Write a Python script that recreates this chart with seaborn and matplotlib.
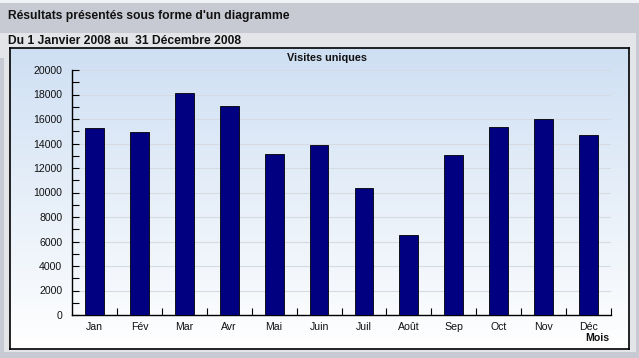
import numpy as np
import pandas as pd
import matplotlib
matplotlib.use("Agg")
import matplotlib.pyplot as plt
import seaborn as sns
from matplotlib.patches import Rectangle
from matplotlib.ticker import MultipleLocator, FixedLocator

months = ["Jan", "Fév", "Mar", "Avr", "Mai", "Juin", "Juil", "Août", "Sep", "Oct", "Nov", "Déc"]
visits = [15300, 14950, 18150, 17050, 13150, 13900, 10400, 6550, 13100, 15350, 16000, 14700]
y_ticks = list(range(0, 20001, 2000))

header_title = "Résultats présentés sous forme d'un diagramme"
period_title = "Du 1 Janvier 2008 au  31 Décembre 2008"
chart_title = "Visites uniques"
x_label = "Mois"

sns.set_theme(style="white")
plt.rcParams['font.family'] = ['Liberation Sans', 'DejaVu Sans']

W, H = 639, 358
fig = plt.figure(figsize=(W / 100, H / 100), dpi=100)
fig.patch.set_facecolor("#c8cad3")

def fx(x):
    return x / W

def fy(y):
    return 1 - y / H

# header bands
fig.patches.append(Rectangle((0, fy(3)), 1, 3 / H, transform=fig.transFigure,
                             facecolor="#f2f3f6", edgecolor="none", zorder=-2))
fig.patches.append(Rectangle((0, fy(352)), fx(636), (352 - 33) / H, transform=fig.transFigure,
                             facecolor="#e3e5e9", edgecolor="none", zorder=-2))
fig.patches.append(Rectangle((0, fy(352)), fx(4), (352 - 58) / H, transform=fig.transFigure,
                             facecolor="#c8cad3", edgecolor="none", zorder=-1))

fig.text(fx(8), fy(16), header_title, fontsize=8.7, fontweight="bold", color="#111111",
         va="center", ha="left")
fig.text(fx(8), fy(41), period_title, fontsize=8.7, fontweight="bold", color="#111111",
         va="center", ha="left")

# panel with gradient
px0, px1, py0, py1 = 10, 629, 48, 349
bg = fig.add_axes([fx(px0), fy(py1), fx(px1 - px0), (py1 - py0) / H], zorder=0)
grad = np.linspace(0, 1, 256).reshape(-1, 1)
top = np.array([0.81, 0.876, 0.953])
bot = np.array([1.0, 1.0, 1.0])
img = top[None, None, :] * (1 - grad[..., None]) + bot[None, None, :] * grad[..., None]
img = np.clip(img * np.ones((1, 2, 1)), 0, 1)
bg.imshow(img, aspect="auto", extent=[0, 1, 0, 1], origin="upper")
bg.set_xticks([])
bg.set_yticks([])
for s in bg.spines.values():
    s.set_visible(True)
    s.set_color("black")
    s.set_linewidth(1.2)

# main axes
ax0, ax1, ay0, ay1 = 72, 611, 70, 315
ax = fig.add_axes([fx(ax0), fy(ay1), fx(ax1 - ax0), (ay1 - ay0) / H], zorder=1)
ax.set_facecolor("none")

df = pd.DataFrame({"Mois": months, "Visites": visits})
sns.barplot(data=df, x="Mois", y="Visites", color="#000080", width=0.42,
            edgecolor="black", linewidth=0.6, saturation=1, ax=ax, zorder=3)

ax.set_xlim(-0.5, len(months) - 0.5)
ax.set_ylim(0, 20000)
ax.yaxis.set_major_locator(FixedLocator(y_ticks))
ax.yaxis.set_minor_locator(MultipleLocator(1000))
ax.xaxis.set_minor_locator(FixedLocator([i + 0.5 for i in range(len(months))]))
ax.set_yticklabels([str(v) for v in y_ticks])
ax.tick_params(axis="y", which="both", direction="in", length=5, width=0.8, color="black",
               labelsize=7.6, pad=7, left=True, labelcolor="#111111")
ax.tick_params(axis="x", which="major", length=0, labelsize=7.6, pad=5, labelcolor="#111111")
ax.tick_params(axis="x", which="minor", direction="in", length=5, width=0.8, color="black",
               bottom=True)
ax.grid(axis="y", which="major", color="#d6dae2", linewidth=0.8, zorder=0)
ax.set_axisbelow(True)
for s in ["top", "right"]:
    ax.spines[s].set_visible(False)
for s in ["left", "bottom"]:
    ax.spines[s].set_color("black")
    ax.spines[s].set_linewidth(1.0)
ax.set_xlabel("")
ax.set_ylabel("")

fig.text(fx(327), fy(58), chart_title, fontsize=7.8, fontweight="bold", color="#111111",
         ha="center", va="center")
fig.text(fx(597), fy(338), x_label, fontsize=7.6, fontweight="bold", color="#111111",
         ha="center", va="center")

fig.savefig("out.png", dpi=100, facecolor=fig.get_facecolor())
